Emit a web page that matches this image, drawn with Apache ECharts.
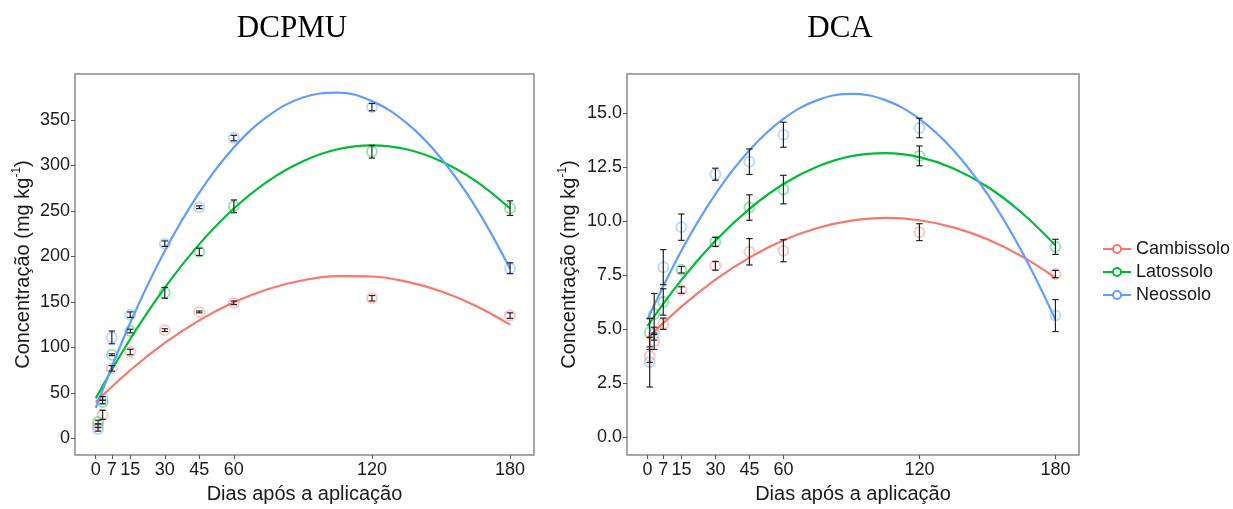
<!DOCTYPE html>
<html>
<head>
<meta charset="utf-8">
<script src="https://cdn.jsdelivr.net/npm/echarts@6/dist/echarts.min.js"></script>
<style>html,body{margin:0;padding:0;background:#fff}#c{width:1233px;height:509px}</style>
</head>
<body>
<div id="c"></div>
<script>
// ---- data ----
const days = [1, 3, 7, 15, 30, 45, 60, 120, 180];
const xTicks = [0, 7, 15, 30, 45, 60, 120, 180];
const soils = ['Cambissolo', 'Latossolo', 'Neossolo'];
const panelTitles = ['DCPMU', 'DCA'];
const yTicksDCPMU = [0, 50, 100, 150, 200, 250, 300, 350];
const yTicksDCA = [0, 2.5, 5, 7.5, 10, 12.5, 15];

// DCPMU means and standard errors
const dcpmuCambissolo = [14, 26, 77, 95, 119, 139, 149, 154, 135];
const dcpmuLatossolo  = [18, 40, 92, 118, 160, 205, 255, 315, 253];
const dcpmuNeossolo   = [10, 44, 111, 136, 214, 254, 330, 364, 187];
const dcpmuCambissoloSE = [2, 5, 3, 3, 1.5, 1, 2, 3, 3];
const dcpmuLatossoloSE  = [2, 2, 1, 2, 6, 4, 7, 7, 8];
const dcpmuNeossoloSE   = [2, 2, 7, 3, 3, 1.5, 3, 4, 6];

// DCA means and standard errors
const dcaCambissolo = [3.77, 4.45, 5.26, 6.82, 7.94, 8.59, 8.64, 9.5, 7.56];
const dcaLatossolo  = [4.85, 5.71, 6.27, 7.76, 9.05, 10.64, 11.47, 13.03, 8.82];
const dcaNeossolo   = [3.48, 4.8, 7.88, 9.73, 12.18, 12.76, 14.01, 14.32, 5.64];
const dcaCambissoloSE = [0.3, 0.38, 0.26, 0.15, 0.2, 0.61, 0.51, 0.39, 0.17];
const dcaLatossoloSE  = [0.66, 0.95, 0.61, 0.15, 0.21, 0.59, 0.66, 0.46, 0.35];
const dcaNeossoloSE   = [1.15, 0.3, 0.81, 0.61, 0.28, 0.59, 0.58, 0.45, 0.74];

// fitted curves
const curveDays = [0, 15, 30, 45, 60, 75, 90, 105, 120, 135, 150, 165, 180];
const dcpmuCurveCambissolo = [39.9, 74.9, 104.9, 129.7, 149.5, 164.2, 173.8, 178.4, 177.9, 172.3, 161.7, 145.9, 125.1];
const dcpmuCurveLatossolo  = [44.2, 109.3, 165.8, 213.5, 252.6, 283, 304.6, 317.7, 322, 317.7, 304.6, 283, 252.6];
const dcpmuCurveNeossolo   = [33.5, 127.1, 206, 270.1, 319.6, 354.4, 374.5, 379.9, 370.6, 346.6, 307.9, 254.5, 186.4];
const dcaCurveCambissolo = [4.58, 6.05, 7.30, 8.32, 9.12, 9.69, 10.03, 10.16, 10.05, 9.72, 9.17, 8.39, 7.39];
const dcaCurveLatossolo  = [5.15, 7.29, 9.10, 10.58, 11.73, 12.54, 13.02, 13.16, 12.97, 12.45, 11.6, 10.41, 8.89];
const dcaCurveNeossolo   = [5.45, 8.64, 11.26, 13.29, 14.74, 15.61, 15.9, 15.61, 14.74, 13.29, 11.26, 8.64, 5.45];

// ---- build ----
const colors = ['#F8766D', '#00BA38', '#619CFF'];
const panels = [
  { means: [dcpmuCambissolo, dcpmuLatossolo, dcpmuNeossolo],
    se: [dcpmuCambissoloSE, dcpmuLatossoloSE, dcpmuNeossoloSE],
    curves: [dcpmuCurveCambissolo, dcpmuCurveLatossolo, dcpmuCurveNeossolo] },
  { means: [dcaCambissolo, dcaLatossolo, dcaNeossolo],
    se: [dcaCambissoloSE, dcaLatossoloSE, dcaNeossoloSE],
    curves: [dcaCurveCambissolo, dcaCurveLatossolo, dcaCurveNeossolo] }
];

const FONT = 'Liberation Sans';
const TXT = '#1a1a1a';

function renderErr(params, api) {
  const x = api.value(0), lo = api.value(1), hi = api.value(2);
  const p1 = api.coord([x, lo]), p2 = api.coord([x, hi]);
  const hw = 3.2;
  const style = { stroke: '#222', lineWidth: 1.2 };
  return { type: 'group', children: [
    { type: 'line', shape: { x1: p1[0], y1: p1[1], x2: p2[0], y2: p2[1] }, style: style },
    { type: 'line', shape: { x1: p1[0] - hw, y1: p1[1], x2: p1[0] + hw, y2: p1[1] }, style: style },
    { type: 'line', shape: { x1: p2[0] - hw, y1: p2[1], x2: p2[0] + hw, y2: p2[1] }, style: style }
  ]};
}

const grids = [
  { left: 75, top: 74, width: 459, height: 388 },
  { left: 627, top: 74, width: 452, height: 388 }
].map(g => Object.assign(g, { show: true, borderColor: '#8a8a8a', borderWidth: 1.5, backgroundColor: '#fff' }));

const xAxes = [0, 1].map(i => ({
  type: 'value', gridIndex: i, min: -9, max: 190.4, position: 'bottom',
  name: 'Dias após a aplicação', nameLocation: 'middle', nameGap: 24,
  nameTextStyle: { fontFamily: FONT, fontSize: 20, color: TXT },
  axisLine: { show: false, onZero: false },
  axisTick: { show: true, length: 4, customValues: xTicks, lineStyle: { color: '#555' } },
  axisLabel: { customValues: xTicks, fontFamily: FONT, fontSize: 18, color: TXT, margin: 6 },
  splitLine: { show: false }
}));

const yTickSets = [yTicksDCPMU, yTicksDCA];
const yRanges = [[-18.3, 400.4], [-0.82, 16.82]];
const yGaps = [40, 46];
const yAxes = [0, 1].map(i => ({
  type: 'value', gridIndex: i, min: yRanges[i][0], max: yRanges[i][1], position: 'left',
  name: 'Concentração (mg kg{sup|-1})', nameLocation: 'middle', nameGap: yGaps[i],
  nameTextStyle: { fontFamily: FONT, fontSize: 20, color: TXT, lineHeight: 24,
    rich: { sup: { fontFamily: FONT, fontSize: 12, color: TXT, verticalAlign: 'top', lineHeight: 24 } } },
  axisLine: { show: false, onZero: false },
  axisTick: { show: true, length: 4, customValues: yTickSets[i], lineStyle: { color: '#555' } },
  axisLabel: { customValues: yTickSets[i], fontFamily: FONT, fontSize: 18, color: TXT, margin: 5,
    formatter: i === 1 ? (v => Number(v).toFixed(1)) : (v => String(v)) },
  splitLine: { show: false }
}));

const series = [];
panels.forEach((p, pi) => {
  soils.forEach((s, si) => {
    series.push({
      name: s, type: 'line', xAxisIndex: pi, yAxisIndex: pi,
      data: curveDays.map((d, k) => [d, p.curves[si][k]]),
      smooth: 0.4, symbol: 'emptyCircle', symbolSize: 8, showSymbol: false,
      lineStyle: { color: colors[si], width: 2.2 }, itemStyle: { color: colors[si] },
      z: 3, silent: true, animation: false
    });
  });
});
panels.forEach((p, pi) => {
  soils.forEach((s, si) => {
    series.push({
      name: s, type: 'scatter', xAxisIndex: pi, yAxisIndex: pi,
      data: days.map((d, k) => [d, p.means[si][k]]),
      symbol: 'emptyCircle', symbolSize: 10,
      itemStyle: { color: colors[si], borderColor: colors[si], borderWidth: 1.2, opacity: 0.4 },
      z: 2, silent: true, animation: false
    });
    series.push({
      name: s, type: 'custom', xAxisIndex: pi, yAxisIndex: pi,
      data: days.map((d, k) => [d, p.means[si][k] - p.se[si][k], p.means[si][k] + p.se[si][k]]),
      encode: { x: 0, y: [1, 2] },
      renderItem: renderErr, z: 4, silent: true, animation: false
    });
  });
});

const chart = echarts.init(document.getElementById('c'), null, { renderer: 'canvas' });
chart.setOption({
  animation: false,
  backgroundColor: '#fff',
  grid: grids,
  xAxis: xAxes,
  yAxis: yAxes,
  legend: {
    orient: 'vertical', left: 1097, top: 235, itemWidth: 28, itemHeight: 10, itemGap: 5,
    data: soils,
    textStyle: { fontFamily: FONT, fontSize: 18, color: TXT }
  },
  graphic: [
    { type: 'text', x: 292, y: 29, style: { text: panelTitles[0], font: '31px "Liberation Serif"', fill: '#000', textAlign: 'center', textVerticalAlign: 'middle' } },
    { type: 'text', x: 840, y: 29, style: { text: panelTitles[1], font: '31px "Liberation Serif"', fill: '#000', textAlign: 'center', textVerticalAlign: 'middle' } }
  ],
  series: series
});
</script>
</body>
</html>
